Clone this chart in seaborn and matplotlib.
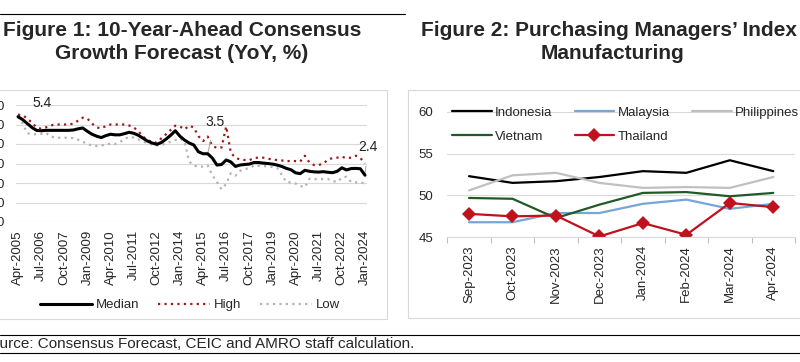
import numpy as np
import pandas as pd
import matplotlib.pyplot as plt
import matplotlib.patches as patches
from matplotlib.lines import Line2D
import seaborn as sns

# Figure 1: 10-year-ahead consensus growth forecast, quarterly Apr-2005 .. Jan-2024
quarters = pd.date_range('2005-04-01', periods=76, freq='3MS').strftime('%b-%Y').tolist()
median = [5.4, 5.25, 5.05, 4.85, 4.7, 4.68, 4.7, 4.7, 4.7, 4.7,
          4.7, 4.7, 4.72, 4.78, 4.82, 4.65, 4.5, 4.4, 4.33, 4.43,
          4.5, 4.47, 4.47, 4.53, 4.6, 4.55, 4.45, 4.3, 4.15, 4.05,
          3.98, 4.08, 4.25, 4.45, 4.68, 4.4, 4.2, 4.05, 3.95, 3.6,
          3.5, 3.5, 3.28, 2.92, 2.95, 3.18, 3.08, 2.85, 2.92, 2.95,
          2.97, 3.05, 3.05, 3.02, 3.0, 2.97, 2.92, 2.85, 2.75, 2.68,
          2.52, 2.48, 2.65, 2.6, 2.57, 2.56, 2.58, 2.55, 2.53, 2.6,
          2.78, 2.67, 2.74, 2.75, 2.73, 2.4]
high = [5.5, 5.48, 5.3, 5.1, 4.85, 4.78, 4.85, 4.95, 5.0, 5.0,
        5.0, 5.0, 5.05, 5.2, 5.35, 5.3, 5.05, 4.85, 4.8, 4.92,
        5.0, 5.0, 5.0, 5.0, 4.95, 4.85, 4.67, 4.38, 4.2, 4.1,
        4.07, 4.3, 4.5, 4.72, 4.94, 4.9, 4.75, 4.94, 4.85, 4.4,
        4.15, 4.38, 3.9, 3.8, 3.82, 4.9, 3.55, 3.3, 3.2, 3.18,
        3.17, 3.28, 3.3, 3.3, 3.25, 3.2, 3.18, 3.16, 3.1, 3.15,
        3.12, 3.1, 3.4, 3.05, 2.92, 2.92, 3.0, 3.2, 3.28, 3.3,
        3.35, 3.27, 3.3, 3.4, 3.28, 3.0]
low = [5.4, 5.05, 4.55, 4.5, 4.5, 4.52, 4.58, 4.4, 4.32, 4.32,
       4.32, 4.32, 4.3, 4.22, 4.12, 4.0, 3.92, 3.9, 3.92, 3.98,
       4.02, 4.0, 4.1, 4.25, 4.37, 4.33, 4.24, 4.12, 4.05, 3.96,
       3.93, 3.95, 4.03, 4.12, 4.2, 4.29, 4.12, 3.1, 2.89, 2.84,
       2.84, 2.9, 2.4, 2.05, 1.68, 1.95, 2.5, 2.38, 2.62, 2.72,
       2.75, 2.9, 2.88, 2.87, 2.85, 2.82, 2.78, 2.42, 2.05, 2.03,
       1.97, 1.85, 1.78, 2.22, 2.2, 2.2, 2.2, 2.2, 2.1, 2.05,
       2.27, 2.32, 2.05, 2.03, 2.02, 1.98]

# Figure 2: manufacturing PMI
months = ['Sep-2023', 'Oct-2023', 'Nov-2023', 'Dec-2023',
          'Jan-2024', 'Feb-2024', 'Mar-2024', 'Apr-2024']
indonesia = [52.3, 51.5, 51.7, 52.2, 52.9, 52.7, 54.2, 52.9]
malaysia = [46.8, 46.8, 47.9, 47.9, 49.0, 49.5, 48.4, 49.0]
philippines = [50.6, 52.4, 52.7, 51.5, 50.9, 51.0, 50.9, 52.2]
vietnam = [49.7, 49.6, 47.3, 48.9, 50.3, 50.4, 49.9, 50.3]
thailand = [47.8, 47.5, 47.6, 45.1, 46.7, 45.3, 49.1, 48.6]

sns.set_style('white')
plt.rcParams['font.family'] = ['Liberation Sans', 'DejaVu Sans']

W, H = 800, 362
fig = plt.figure(figsize=(8, 3.62), dpi=100)


def box(x0, y0, x1, y1):
    """pixel box (top-left origin) -> figure rect"""
    return [x0 / W, 1 - y1 / H, (x1 - x0) / W, (y1 - y0) / H]


def hline(x0, x1, y, lw=0.8):
    fig.add_artist(Line2D([x0 / W, x1 / W], [1 - y / H] * 2, color='black', lw=lw))


# page decorations
hline(0, 405, 14)
hline(0, 800, 335)
hline(0, 800, 353)
for r in [box(-5, 90, 387, 319), box(408, 90, 806, 318)]:
    fig.add_artist(patches.Rectangle((r[0], r[1]), r[2], r[3], transform=fig.transFigure,
                                     fill=False, edgecolor='#d9d9d9', lw=0.8))

fig.text(182 / W, 1 - 35.5 / H, 'Figure 1: 10-Year-Ahead Consensus', ha='center',
         va='baseline', fontsize=15, fontweight='bold')
fig.text(182 / W, 1 - 59 / H, 'Growth Forecast (YoY, %)', ha='center',
         va='baseline', fontsize=15, fontweight='bold')
fig.text(609 / W, 1 - 35.5 / H, 'Figure 2: Purchasing Managers\u2019 Index', ha='center',
         va='baseline', fontsize=15, fontweight='bold')
fig.text(612 / W, 1 - 59 / H, 'Manufacturing', ha='center',
         va='baseline', fontsize=15, fontweight='bold')
fig.text(-18.7 / W, 1 - 344 / H, 'Source: Consensus Forecast, CEIC and AMRO staff calculation.',
         ha='left', va='center', fontsize=11)

# ---- left chart
ax1 = fig.add_axes(box(15.7, 105, 367.3, 222))
df1 = pd.DataFrame({'x': np.arange(len(quarters)), 'Median': median, 'High': high, 'Low': low})
sns.lineplot(data=df1, x='x', y='Median', ax=ax1, color='black', lw=2.2, zorder=4, label='Median')
sns.lineplot(data=df1, x='x', y='High', ax=ax1, color='#9b1b1b', lw=1.6,
             linestyle=(0, (1, 1.9)), zorder=3, label='High')
sns.lineplot(data=df1, x='x', y='Low', ax=ax1, color='#b3b3b3', lw=1.6,
             linestyle=(0, (1, 1.9)), zorder=2, label='Low')
ax1.set_xlim(-0.5, len(quarters) - 0.5)
ax1.set_ylim(0, 6)
ax1.set_yticks(range(0, 7))
ax1.set_yticklabels([f'{v:.1f}' for v in range(0, 7)])
ax1.set_xticks(range(0, len(quarters), 5))
ax1.set_xticklabels(quarters[::5], rotation=90)
ax1.set_xlabel('')
ax1.set_ylabel('')
ax1.yaxis.grid(True, color='#d9d9d9', lw=0.8)
ax1.xaxis.grid(False)
for s in ax1.spines.values():
    s.set_visible(False)
ax1.tick_params(axis='both', length=0, labelsize=9.5)
ax1.tick_params(axis='y', pad=7.7)
ax1.tick_params(axis='x', pad=5.8)
h1, l1 = ax1.get_legend_handles_labels()
ax1.get_legend().remove()
fig.legend(h1, l1, loc='center', bbox_to_anchor=(190 / W, 1 - 305 / H), ncol=3,
           frameon=False, fontsize=9.5, handlelength=3.9, handletextpad=0.3,
           columnspacing=1.45, borderpad=0)

ann = dict(fontsize=10, color='#222222', textcoords='offset points', ha='center', va='center')
ax1.annotate('5.4', xy=(0, median[0]), xytext=(17, 10), **ann)
ax1.annotate('3.5', xy=(41, median[41]), xytext=(5, 23), **ann,
             arrowprops=dict(arrowstyle='-', color='#a6a6a6', lw=0.7, shrinkA=6, shrinkB=0))
ax1.annotate('2.4', xy=(75, median[75]), xytext=(2, 20), **ann,
             arrowprops=dict(arrowstyle='-', color='#a6a6a6', lw=0.7, shrinkA=6, shrinkB=0))

# ---- right chart
ax2 = fig.add_axes(box(447.3, 111.7, 795, 237.3))
xm = np.arange(len(months))
series = [('Indonesia', indonesia, '#000000', None),
          ('Malaysia', malaysia, '#74a6d8', None),
          ('Philippines', philippines, '#c0c0c0', None),
          ('Vietnam', vietnam, '#1f5a27', None),
          ('Thailand', thailand, '#c0121c', 'D')]
for name, vals, col, mk in series:
    sns.lineplot(x=xm, y=vals, ax=ax2, color=col, lw=1.6, marker=mk,
                 markersize=7.5, markeredgewidth=0, label=name)
ax2.set_xlim(-0.5, len(months) - 0.5)
ax2.set_ylim(45, 60)
ax2.set_yticks([45, 50, 55, 60])
ax2.set_xticks(xm)
ax2.set_xticklabels(months, rotation=90)
ax2.set_xticks(np.arange(-0.5, len(months), 1), minor=True)
ax2.yaxis.grid(True, color='#d9d9d9', lw=0.8)
ax2.xaxis.grid(False)
for k, s in ax2.spines.items():
    s.set_visible(k == 'bottom')
ax2.spines['bottom'].set_color('#d9d9d9')
ax2.spines['bottom'].set_linewidth(0.8)
ax2.tick_params(axis='both', which='major', length=0, labelsize=9.5)
ax2.tick_params(axis='y', pad=10.3)
ax2.tick_params(axis='x', which='major', pad=5.6)
ax2.tick_params(axis='x', which='minor', bottom=True, length=4, width=0.8, color='#bfbfbf')
h2, l2 = ax2.get_legend_handles_labels()
ax2.get_legend().remove()
order = [0, 3, 1, 4, 2]
ax2.legend([h2[i] for i in order], [l2[i] for i in order], loc='upper left',
           bbox_to_anchor=(452 / W, 1 - 106.5 / H), bbox_transform=fig.transFigure,
           ncol=3, frameon=False, fontsize=9.5, handlelength=3.0, handletextpad=0.25,
           columnspacing=1.7, labelspacing=0.9, borderpad=0, borderaxespad=0)

fig.savefig('out.png', dpi=100)
